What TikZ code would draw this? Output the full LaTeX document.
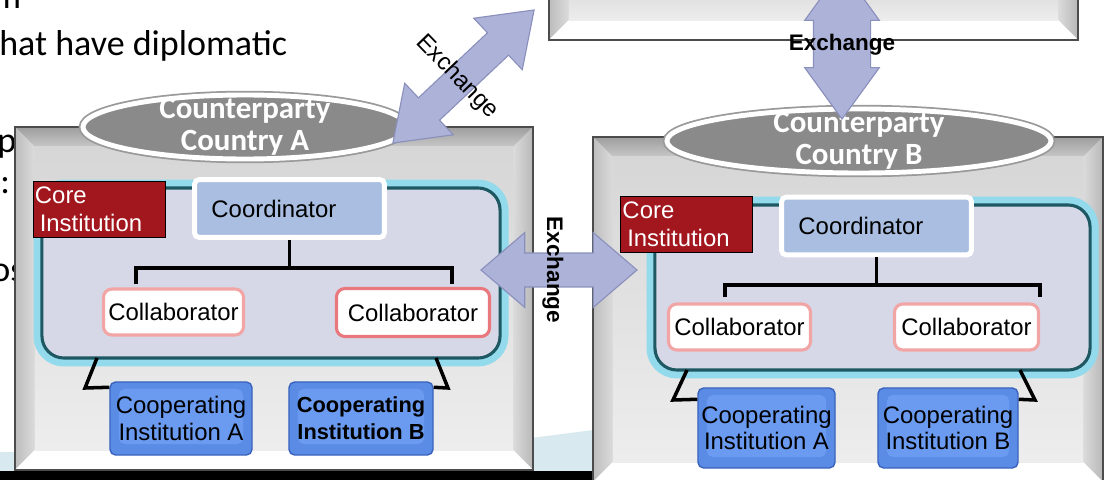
\documentclass[tikz,border=0pt]{standalone}
\usepackage{fontspec}
\setmainfont{Liberation Sans}
\newfontfamily\calfont{Carlito}
\usetikzlibrary{shapes.geometric,shapes.arrows,calc}

\definecolor{corered}{HTML}{A2161E}
\definecolor{coordblue}{HTML}{A9BEE0}
\definecolor{corefill}{HTML}{D6D8E8}
\definecolor{coreline}{HTML}{1D5863}
\definecolor{glow}{HTML}{93DAEC}
\definecolor{collpink}{HTML}{F2A5A5}
\definecolor{collred}{HTML}{E8787D}
\definecolor{coopblue}{HTML}{5A8CE6}
\definecolor{coopedge}{HTML}{3A63BE}
\definecolor{cooplite}{HTML}{6A9BF0}
\definecolor{arrowfill}{HTML}{ADB2D8}
\definecolor{arrowline}{HTML}{8A90BC}
\definecolor{ovalgray}{HTML}{8A8A8A}
\definecolor{skyband}{HTML}{D8E9F0}

\newcommand{\boxfont}{\fontsize{17}{20}\selectfont}
\newcommand{\bevelfaces}[1]{%
  \path (path picture bounding box.north west) coordinate (pnw)
    (path picture bounding box.north east) coordinate (pne)
    (path picture bounding box.south west) coordinate (psw)
    (path picture bounding box.south east) coordinate (pse);
  \fill[black!12] (pnw) rectangle (pse);
  \shade[top color=black!38, bottom color=black!22] (pnw) -- (pne) -- ($(pne)+(-#1,#1)$) -- ($(pnw)+(#1,#1)$) -- cycle;
  \shade[left color=black!26, right color=black!14] (pnw) -- ($(pnw)+(#1,#1)$) -- ($(psw)+(#1,-#1)$) -- (psw) -- cycle;
  \shade[left color=black!14, right color=black!28] (pne) -- ($(pne)+(-#1,#1)$) -- ($(pse)+(-#1,-#1)$) -- (pse) -- cycle;
  \fill[white] (psw) -- ($(psw)+(#1,-#1)$) -- ($(pse)+(-#1,-#1)$) -- (pse) -- cycle;
  \shade[top color=black!16, bottom color=black!7] ($(pnw)+(#1,#1)$) rectangle ($(pse)+(-#1,-#1)$);
}

\begin{document}
\begin{tikzpicture}[x=0.025cm,y=-0.025cm]
	\tikzstyle{panel}=[draw=black!70, line width=1.1pt, path picture={\bevelfaces{20}}]
	\tikzstyle{core}=[draw=coreline, line width=2.2pt, fill=corefill, rounded corners=0.55cm, preaction={draw=glow, line width=12pt}]
	\tikzstyle{corebox}=[draw=black, line width=0.6pt, fill=corered, text=white, font=\boxfont, align=left, text width=3.2cm, inner xsep=0.05cm, minimum height=1.4cm]
	\tikzstyle{coordbox}=[draw=white, line width=3.5pt, fill=coordblue, rounded corners=3pt, font=\boxfont, align=left, text width=3.9cm, inner xsep=0.42cm, minimum height=1.44cm]
	\tikzstyle{collbox}=[draw=collpink, line width=2.2pt, fill=white, rounded corners=6pt, font=\boxfont, minimum height=1.15cm, inner sep=0]
	\tikzstyle{coopbox}=[draw=coopedge, line width=1pt, fill=coopblue, rounded corners=4pt, font=\fontsize{17}{19}\selectfont, align=center, inner sep=0,
		path picture={\fill[cooplite] ($(path picture bounding box.north west)+(9,7)$) rectangle ($(path picture bounding box.south east)+(-9,-11)$);}]
	\tikzstyle{country}=[ellipse, fill=ovalgray, draw=white, line width=3.5pt, preaction={draw=black!40, line width=6pt}, inner sep=0]
	\tikzstyle{countrytext}=[text=white, font=\calfont\bfseries\fontsize{22}{23}\selectfont, align=center]
	\tikzstyle{xarrow}=[double arrow, fill=arrowfill, draw=arrowline, line width=0.8pt, inner xsep=0]
	\tikzstyle{tree}=[line width=2.5pt]
	\tikzstyle{slide}=[font=\calfont\fontsize{25.6}{30}\selectfont, anchor=base west, inner sep=0]

	\useasboundingbox (0,0) rectangle (1105,480);
	\clip (0,0) rectangle (1105,480);

	\node[slide] (txt0) at (-8,9) {m};
	\node[slide] (txt1) at (-1,55) {hat have diplomatic};
	\node[slide] (txt2) at (-3,152) {p};
	\node[slide] (txt3) at (0,193) {:};
	\node[slide] (txt4) at (-9,281) {os};

	\fill[skyband] (0,452) rectangle (16,471);
	\fill[skyband] (531,438) -- (593,430) -- (593,471) -- (531,471) -- cycle;
	\fill[black] (0,471) rectangle (593,480);

	\node[panel, minimum width=13.225cm, minimum height=2cm] (topbox) at (813.5,0) {};
	\node[panel, minimum width=12.95cm, minimum height=8.575cm] (panelA) at (274,298.5) {};
	\node[panel, minimum width=12.75cm, minimum height=8.625cm] (panelB) at (848,309.5) {};

	\node[core, minimum width=11.45cm, minimum height=4.25cm] (coreA) at (271,273) {};
	\node[core, minimum width=10.875cm, minimum height=4.125cm] (coreB) at (872.5,287.5) {};

	\node[corebox] (instA) at (99,209) {Core\\\hspace*{0.12cm}Institution};
	\node[corebox] (instB) at (686.5,224.5) {Core\\\hspace*{0.12cm}Institution};

	\node[coordbox] (coordA) at (289.5,208.5) {Coordinator};
	\node[coordbox] (coordB) at (876.5,226) {Coordinator};

	\coordinate (barA1) at (136,268);
	\coordinate (barA2) at (452,268);
	\draw[tree] (coordA.south) -- (coordA.south |- barA1);
	\draw[tree] ($(barA1)+(0,16)$) -- (barA1) -- (barA2) -- ++(0,16);
	\coordinate (barB1) at (725,285);
	\coordinate (barB2) at (1040,285);
	\draw[tree] (coordB.south) -- (coordB.south |- barB1);
	\draw[tree] ($(barB1)+(0,12)$) -- (barB1) -- (barB2) -- ++(0,12);

	\node[collbox, minimum width=3.5cm] (colA1) at (173.5,312) {Collaborator};
	\node[collbox, draw=collred, minimum width=3.825cm, minimum height=1.2cm] (colA2) at (413,312.5) {Collaborator};
	\node[collbox, minimum width=3.55cm] (colB1) at (739.5,327) {Collaborator};
	\node[collbox, minimum width=3.6cm] (colB2) at (966.5,327) {Collaborator};

	\coordinate (brA1) at (97,358);
	\coordinate (brA2) at (436,358);
	\coordinate (brB1) at (687,370);
	\coordinate (brB2) at (1020,370);

	\node[coopbox, minimum width=3.55cm, minimum height=1.825cm] (cpA1) at (181,418.5) {Cooperating\\Institution A};
	\node[coopbox, font=\bfseries\fontsize{15.5}{19}\selectfont, minimum width=3.6cm, minimum height=1.825cm] (cpA2) at (361,418.5) {Cooperating\\Institution B};
	\node[coopbox, minimum width=3.425cm, minimum height=2cm] (cpB1) at (766.5,428) {Cooperating\\Institution A};
	\node[coopbox, minimum width=3.5cm, minimum height=2cm] (cpB2) at (948,428) {Cooperating\\Institution B};

	\draw[tree] (brA1) -- ++(-12,30) -- ([yshift=-0.15cm]cpA1.north west);
	\draw[tree] (brA2) -- ++(12,30) -- ([yshift=-0.15cm]cpA2.north east);
	\draw[tree] (brB1) -- ++(-14,30) -- ([yshift=-0.3cm]cpB1.north west);
	\draw[tree] (brB2) -- ++(15,30) -- ([yshift=-0.3cm]cpB2.north east);

	\node[country, minimum width=8.1cm, minimum height=1.6cm, label={[countrytext]center:Counterparty\\Country A}] (ctyA) at (245,127) {};
	\node[country, minimum width=9.6cm, minimum height=1.6cm, label={[countrytext]center:Counterparty\\Country B}] (ctyB) at (859,141) {};

	\node[xarrow, rotate=43.3, minimum height=4.85cm, inner ysep=0.37cm, double arrow head extend=0.5cm, double arrow tip angle=71] (exAT) at (463.5,76.5) {};
	\node[xarrow, minimum height=3.9cm, inner ysep=0.41cm, double arrow head extend=0.51cm, double arrow tip angle=81] (exAB) at (559,270) {};
	\node[xarrow, rotate=90, minimum height=3.75cm, inner ysep=0.7cm, double arrow head extend=0.22cm, double arrow tip angle=72] (exBT) at (842,44) {};

	\node[rotate=-46, font=\fontsize{17}{17}\selectfont] (lblAT) at (457,77) {Exchange};
	\node[rotate=-90, font=\bfseries\fontsize{16}{16}\selectfont] (lblAB) at (553,270) {Exchange};
	\node[font=\bfseries\fontsize{16}{16}\selectfont] (lblBT) at (842,45) {Exchange};

\end{tikzpicture}
\end{document}
